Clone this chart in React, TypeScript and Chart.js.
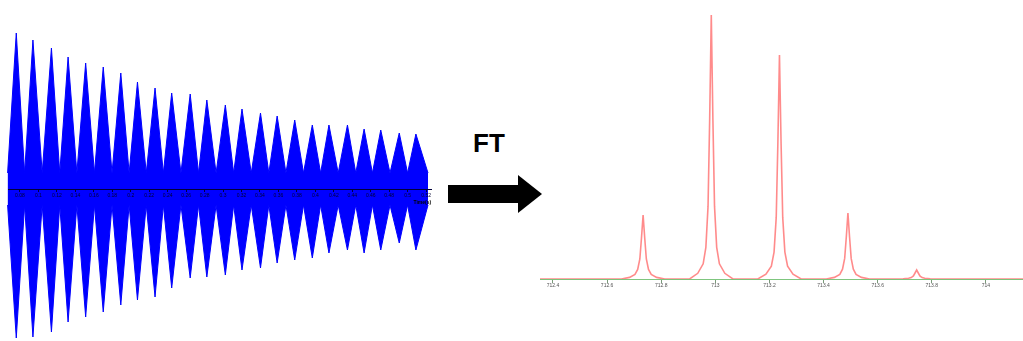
import React, { useEffect, useRef } from "react";
import { Chart, registerables } from "chart.js";

Chart.register(...registerables);

// ---------- FID (time domain) ----------
const timeTicks = [0.08, 0.1, 0.12, 0.14, 0.16, 0.18, 0.2, 0.22, 0.24, 0.26, 0.28, 0.3, 0.32, 0.34, 0.36, 0.38, 0.4, 0.42, 0.44, 0.46, 0.48, 0.5, 0.52];
const timeTickLabels = ["0.08", "0.1", "0.12", "0.14", "0.16", "0.18", "0.2", "0.22", "0.24", "0.26", "0.28", "0.3", "0.32", "0.34", "0.36", "0.38", "0.4", "0.42", "0.44", "0.46", "0.48", "0.5", "0.52"];
const peakTimes = [0.076, 0.094, 0.114, 0.132, 0.151, 0.17, 0.189, 0.207, 0.226, 0.244, 0.264, 0.282, 0.302, 0.32, 0.34, 0.358, 0.377, 0.396, 0.414, 0.434, 0.452, 0.47, 0.49, 0.508];
const peakTop = [156, 149, 141, 132, 126, 122, 116, 107, 101, 96, 95, 89, 84, 80, 76, 73, 69, 64, 64, 64, 60, 59, 56, 55];
const peakBottom = [149, 148, 143, 133, 128, 123, 116, 111, 108, 99, 89, 88, 86, 81, 79, 74, 71, 69, 64, 61, 64, 61, 54, 61];
const bandLevel = 16;
const signalStart = 0.0666;
const signalEnd = 0.5211;
const timeMin = 0.0584;
const timeMax = 0.5254;
const axisTimeMin = 0.06705;

// ---------- Spectrum (m/z domain) ----------
const mzTicks = [712.4, 712.6, 712.8, 713, 713.2, 713.4, 713.6, 713.8, 714];
const mzTickLabels = ["712.4", "712.6", "712.8", "713", "713.2", "713.4", "713.6", "713.8", "714"];
const mzMin = 712.352;
const mzMax = 714.137;
const peakCenters = [712.733, 712.985, 713.237, 713.49, 713.744];
const profileOffsets = [-0.08, -0.05, -0.03, -0.02, -0.012, -0.006, 0, 0.006, 0.012, 0.02, 0.03, 0.05, 0.08];
const peak1 = [0, 1.6, 4.5, 9.5, 20, 41, 64, 41, 20, 9.5, 4.5, 1.6, 0];
const peak2 = [0, 5.7, 15.2, 31.7, 72.6, 159, 264, 159, 72.6, 31.7, 15.2, 5.7, 0];
const peak3 = [0, 4.8, 12.9, 26.9, 61.6, 135, 224, 135, 61.6, 26.9, 12.9, 4.8, 0];
const peak4 = [0, 1.6, 4.6, 9.8, 20.6, 42, 66, 42, 20.6, 9.8, 4.6, 1.6, 0];
const peak5 = [0, 0.3, 0.7, 1.4, 3, 6, 9, 6, 3, 1.4, 0.7, 0.3, 0];
const peakProfiles = [peak1, peak2, peak3, peak4, peak5];

function buildEnvelope(values: number[], sign: number) {
  const pts: { x: number; y: number }[] = [{ x: signalStart, y: sign * bandLevel }];
  peakTimes.forEach((t, i) => {
    pts.push({ x: t, y: sign * values[i] });
    const next = i < peakTimes.length - 1 ? (t + peakTimes[i + 1]) / 2 : signalEnd;
    pts.push({ x: next, y: sign * bandLevel });
  });
  return pts;
}

const baseOptions: any = {
  animation: false,
  responsive: false,
  events: [],
  layout: { padding: 0 },
  plugins: { legend: { display: false }, tooltip: { enabled: false } },
};

function FidChart() {
  const ref = useRef<HTMLCanvasElement>(null);
  useEffect(() => {
    if (!ref.current) return;
    const blue = "#0000ff";
    const chart = new Chart(ref.current, {
      type: "line",
      data: {
        datasets: [
          { data: buildEnvelope(peakTop, 1), borderColor: blue, backgroundColor: blue, fill: "+1", borderWidth: 1, pointRadius: 0, tension: 0 },
          { data: buildEnvelope(peakBottom, -1), borderColor: blue, backgroundColor: blue, fill: false, borderWidth: 1, pointRadius: 0, tension: 0 },
        ],
      },
      options: {
        ...baseOptions,
        scales: {
          x: { type: "linear", display: false, min: timeMin, max: timeMax },
          y: { type: "linear", display: false, min: -152, max: 189 },
        },
      },
    });
    return () => chart.destroy();
  }, []);
  return <canvas ref={ref} width={432} height={341} style={{ position: "absolute", left: 0, top: 0, display: "block" }} />;
}

// Time axis drawn by its own chart, overlaid on the FID at its zero line
function FidAxis() {
  const ref = useRef<HTMLCanvasElement>(null);
  useEffect(() => {
    if (!ref.current) return;
    const chart = new Chart(ref.current, {
      type: "line",
      data: { datasets: [] },
      options: {
        ...baseOptions,
        scales: {
          x: {
            type: "linear",
            min: axisTimeMin,
            max: timeMax,
            position: "bottom",
            afterBuildTicks: (s: any) => {
              s.ticks = timeTicks.map((v) => ({ value: v }));
            },
            grid: { drawOnChartArea: false, drawTicks: true, tickLength: 3, color: "#00003a" },
            border: { display: true, color: "#00003a", dash: [2, 1], width: 1 },
            ticks: {
              autoSkip: false,
              maxRotation: 0,
              padding: 1,
              color: "#000030",
              font: { size: 5, family: "Liberation Sans" },
              callback: (_v: any, i: number) => timeTickLabels[i],
            },
            title: { display: true, text: "Time(s)", align: "end", color: "#000000", padding: 0, font: { size: 5, weight: "bold", family: "Liberation Sans" } },
          },
          y: { type: "linear", display: false, min: 0, max: 1 },
        },
      },
    });
    return () => chart.destroy();
  }, []);
  return <canvas ref={ref} width={424} height={40} style={{ position: "absolute", left: 8, top: 166, display: "block" }} />;
}

function SpectrumChart() {
  const ref = useRef<HTMLCanvasElement>(null);
  useEffect(() => {
    if (!ref.current) return;
    const pts: { x: number; y: number }[] = [{ x: mzMin, y: 0 }];
    peakProfiles.forEach((prof, i) => {
      profileOffsets.forEach((o, j) => pts.push({ x: peakCenters[i] + o, y: prof[j] }));
    });
    pts.push({ x: mzMax, y: 0 });
    const chart = new Chart(ref.current, {
      type: "line",
      data: {
        datasets: [
          { data: pts, borderColor: "rgba(255,90,90,0.7)", borderWidth: 1.6, pointRadius: 0, tension: 0, fill: false },
        ],
      },
      options: {
        ...baseOptions,
        scales: {
          x: {
            type: "linear",
            min: mzMin,
            max: mzMax,
            position: { y: 0 } as any,
            afterBuildTicks: (s: any) => {
              s.ticks = mzTicks.map((v) => ({ value: v }));
            },
            grid: { drawOnChartArea: false, drawTicks: true, tickLength: 3, color: "#7a9a7a", z: 1 },
            border: { display: true, color: "rgba(120,195,120,0.95)", dash: [3, 3], width: 1, z: 1 },
            ticks: {
              z: 1,
              autoSkip: false,
              maxRotation: 0,
              padding: 1,
              color: "#555555",
              font: { size: 5, family: "Liberation Sans" },
              callback: (_v: any, i: number) => mzTickLabels[i],
            },
          },
          y: { type: "linear", display: false, min: -62, max: 279 },
        },
      },
    });
    return () => chart.destroy();
  }, []);
  return <canvas ref={ref} width={483} height={341} style={{ position: "absolute", left: 540, top: 0, display: "block" }} />;
}

export default function App() {
  return (
    <div style={{ position: "absolute", left: 0, top: 0, width: 1023, height: 341, overflow: "hidden", background: "#ffffff" }}>
      <FidChart />
      <FidAxis />
      <div
        style={{
          position: "absolute",
          left: 473,
          top: 130,
          fontFamily: "'Liberation Sans', Arial, sans-serif",
          fontWeight: "bold",
          fontSize: 26,
          lineHeight: "26px",
          color: "#000",
        }}
      >
        FT
      </div>
      <div style={{ position: "absolute", left: 448, top: 185, width: 71, height: 18, background: "#000" }} />
      <div
        style={{
          position: "absolute",
          left: 518,
          top: 175,
          width: 0,
          height: 0,
          borderLeft: "24px solid #000",
          borderTop: "19px solid transparent",
          borderBottom: "19px solid transparent",
        }}
      />
      <SpectrumChart />
    </div>
  );
}
